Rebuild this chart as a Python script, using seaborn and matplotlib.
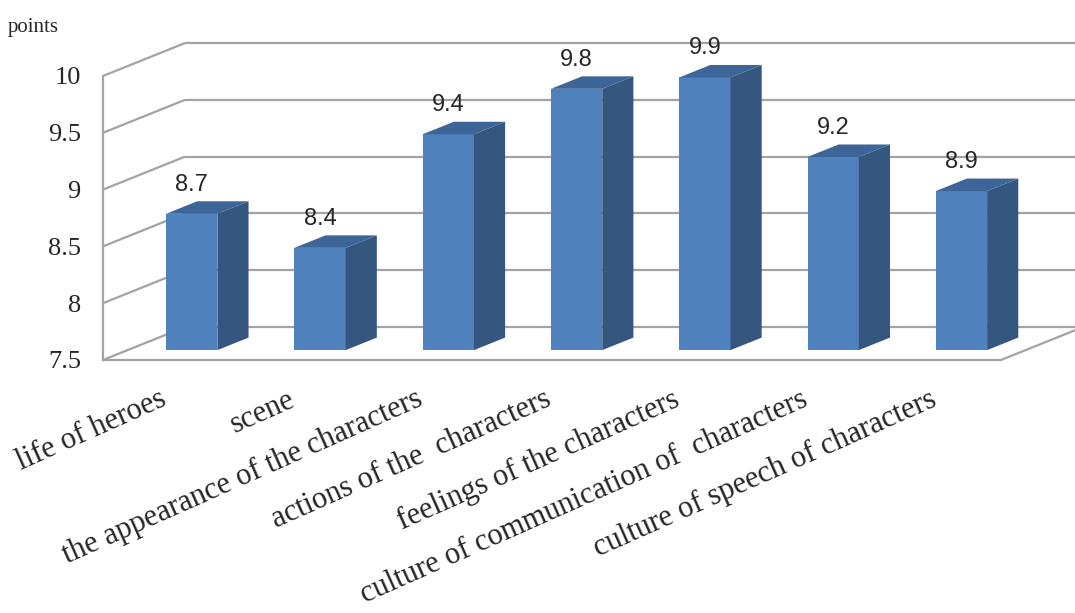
import matplotlib
matplotlib.use("Agg")
import matplotlib.pyplot as plt
from matplotlib.patches import Polygon
from matplotlib.transforms import ScaledTranslation
import seaborn as sns
import numpy as np

# Data
categories = [
    "life of heroes",
    "scene",
    "the appearance of the characters",
    "actions of the  characters",
    "feelings of the characters",
    "culture of communication of  characters",
    "culture of speech of characters",
]
scores = [8.7, 8.4, 9.4, 9.8, 9.9, 9.2, 8.9]
y_ticks = [7.5, 8, 8.5, 9, 9.5, 10]
y_tick_labels = ["7.5", "8", "8.5", "9", "9.5", "10"]

sns.set_theme(style="white")
SERIF = ["Liberation Serif", "DejaVu Serif"]
SANS = ["Liberation Sans", "DejaVu Sans"]
plt.rcParams["font.family"] = SERIF

FRONT = "#4F81BD"
SIDE = "#34567F"
TOP = "#3D6598"
GRID = "#A3A3A3"

fig = plt.figure(figsize=(10.75, 6.13), dpi=100)
ax = fig.add_axes([103 / 1075, 253 / 613, 898 / 1075, 284 / 613])

base = 7.5
ymax = 10
# pseudo-3D depth: wall offset and bar offset in data units
wall_dx, wall_dy = 0.639, 0.29
bar_frac0 = 0.30
depth_frac = 0.38
bar_dx0, bar_dy0 = wall_dx * bar_frac0, wall_dy * bar_frac0
ddx, ddy = wall_dx * depth_frac, wall_dy * depth_frac

sns.barplot(x=categories, y=scores, color=FRONT, saturation=1, width=0.4,
            ax=ax, zorder=3, edgecolor="none")

n = len(categories)
ax.set_xlim(-0.5, n - 0.5)
ax.set_ylim(base, ymax)

# walls and floor
lkw = dict(color=GRID, lw=1.6, clip_on=False, zorder=1, solid_capstyle="butt")
x0, x1 = -0.5, n - 0.5
for v in y_ticks:
    ax.plot([x0, x0 + wall_dx], [v, v + wall_dy], **lkw)
    ax.plot([x0 + wall_dx, x1 + wall_dx + 0.2], [v + wall_dy, v + wall_dy], **lkw)
ax.plot([x1, x1 + wall_dx], [base, base + wall_dy], **lkw)

# turn flat bars into boxes
for p in ax.patches:
    val = p.get_height()
    left = p.get_x() + bar_dx0
    w = p.get_width()
    y0 = base + bar_dy0
    top = val + bar_dy0
    p.set_x(left)
    p.set_y(y0)
    p.set_height(top - y0)
    p.set_clip_on(False)
    right = left + w
    side = Polygon([(right, y0), (right + ddx, y0 + ddy), (right + ddx, top + ddy), (right, top)],
                   closed=True, facecolor=SIDE, edgecolor="none", zorder=3, clip_on=False)
    lid = Polygon([(left, top), (left + ddx, top + ddy), (right + ddx, top + ddy), (right, top)],
                  closed=True, facecolor=TOP, edgecolor="none", zorder=3, clip_on=False)
    ax.add_patch(side)
    ax.add_patch(lid)
    ax.annotate(f"{val:.1f}", xy=(left + w / 2, top + ddy), xytext=(0, 4),
                textcoords="offset points", ha="center", va="bottom",
                fontsize=17, family=SANS, zorder=4, annotation_clip=False)

# axes styling
for s in ["top", "right"]:
    ax.spines[s].set_visible(False)
for s in ["left", "bottom"]:
    ax.spines[s].set_color(GRID)
    ax.spines[s].set_linewidth(1.6)
    ax.spines[s].set_zorder(2)

ax.set_yticks(y_ticks)
ax.set_yticklabels(y_tick_labels, fontsize=19, family=SERIF)
ax.tick_params(axis="y", direction="out", length=6, width=1.4, color=GRID, pad=10)

ax.set_xticks(np.arange(-0.5, n, 1.0), minor=True)
ax.tick_params(axis="x", which="minor", direction="out", length=7, width=1.4, color=GRID)
ax.set_xticks(np.arange(n))
ax.set_xticklabels(categories, rotation=24, ha="right", va="top",
                   rotation_mode="anchor", fontsize=22, family=SERIF)
ax.tick_params(axis="x", which="major", length=0, pad=18)
shift = ScaledTranslation(-8 / 100, 0, fig.dpi_scale_trans)
for lab in ax.get_xticklabels():
    lab.set_transform(lab.get_transform() + shift)
ax.set_xlabel("")
ax.set_ylabel("")
ax.grid(False)

fig.text(8 / 1075, 1 - 32 / 613, "points", fontsize=15, ha="left", va="baseline",
         family=SERIF)

fig.savefig("out.png", dpi=100)
